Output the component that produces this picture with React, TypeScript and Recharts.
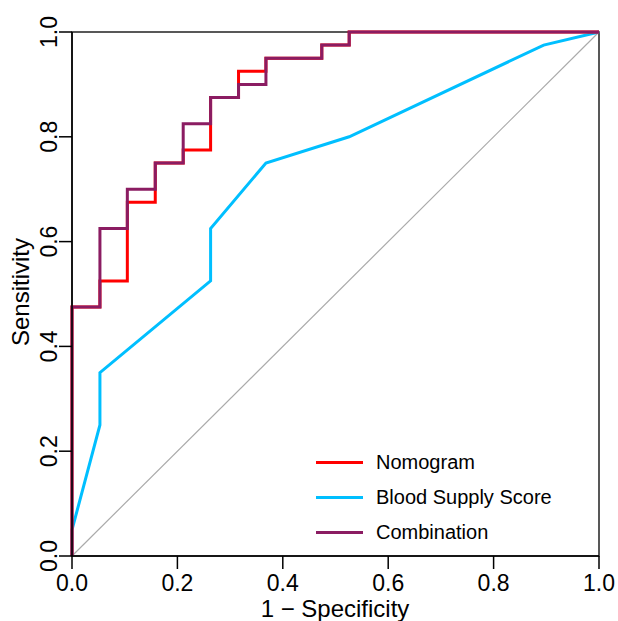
import { LineChart, Line, XAxis, YAxis, ReferenceLine, ReferenceArea } from 'recharts'

// ROC curve points (1 - specificity, sensitivity)
const nomogramFpr = [0, 0, 0.053, 0.053, 0.105, 0.105, 0.158, 0.158, 0.211, 0.211, 0.263, 0.263, 0.316, 0.316, 0.368, 0.368, 0.474, 0.474, 0.526, 0.526, 1]
const nomogramTpr = [0, 0.475, 0.475, 0.525, 0.525, 0.675, 0.675, 0.75, 0.75, 0.775, 0.775, 0.875, 0.875, 0.925, 0.925, 0.95, 0.95, 0.975, 0.975, 1, 1]

const bloodFpr = [0, 0, 0.053, 0.053, 0.263, 0.263, 0.368, 0.526, 0.895, 1]
const bloodTpr = [0, 0.05, 0.25, 0.35, 0.525, 0.625, 0.75, 0.8, 0.975, 1]

const comboFpr = [0, 0, 0.053, 0.053, 0.105, 0.105, 0.158, 0.158, 0.211, 0.211, 0.263, 0.263, 0.316, 0.316, 0.368, 0.368, 0.474, 0.474, 0.526, 0.526, 1]
const comboTpr = [0, 0.475, 0.475, 0.625, 0.625, 0.7, 0.7, 0.75, 0.75, 0.825, 0.825, 0.875, 0.875, 0.9, 0.9, 0.95, 0.95, 0.975, 0.975, 1, 1]

const ticks = [0, 0.2, 0.4, 0.6, 0.8, 1]

const seriesNames = ['Nomogram', 'Blood Supply Score', 'Combination']
const seriesColors = ['#ff0000', '#00bfff', '#8b1c62']

const toPoints = (xs: number[], ys: number[]) => xs.map((x, i) => ({ x, y: ys[i] }))

const FONT = '"Liberation Sans", Arial, sans-serif'

const XTick = ({ x, y, payload }: any) => (
  <text x={x} y={y + 12} textAnchor="middle" dominantBaseline="central" fontSize={23} fontFamily={FONT} fill="#000">
    {payload.value.toFixed(1)}
  </text>
)

const YTick = ({ y, payload }: any) => (
  <text
    x={49}
    y={y}
    textAnchor="middle"
    dominantBaseline="central"
    fontSize={23}
    fontFamily={FONT}
    fill="#000"
    transform={`rotate(-90, 49, ${y})`}
  >
    {payload.value.toFixed(1)}
  </text>
)

export default function App() {
  return (
    <div style={{ position: 'absolute', left: 0, top: 0, width: 618, height: 621, background: '#fff' }}>
      <LineChart width={618} height={621} margin={{ top: 32, right: 19, bottom: 0, left: 0 }}>
        <XAxis
          dataKey="x"
          type="number"
          domain={[0, 1]}
          ticks={ticks}
          tick={<XTick />}
          tickSize={13}
          axisLine={{ stroke: '#000', strokeWidth: 1.5 }}
          tickLine={{ stroke: '#000', strokeWidth: 1.5 }}
          height={65}
        />
        <YAxis
          dataKey="y"
          type="number"
          domain={[0, 1]}
          ticks={ticks}
          tick={<YTick />}
          tickSize={13}
          axisLine={{ stroke: '#000', strokeWidth: 1.5 }}
          tickLine={{ stroke: '#000', strokeWidth: 1.5 }}
          width={72}
        />
        <ReferenceArea x1={0} x2={1} y1={0} y2={1} fill="none" stroke="#222" strokeWidth={1.5} />
        <ReferenceLine segment={[{ x: 0, y: 0 }, { x: 1, y: 1 }]} stroke="#aaaaaa" strokeWidth={1.2} />
        <Line data={toPoints(bloodFpr, bloodTpr)} dataKey="y" type="linear" stroke={seriesColors[1]} strokeWidth={3} dot={false} isAnimationActive={false} />
        <Line data={toPoints(nomogramFpr, nomogramTpr)} dataKey="y" type="linear" stroke={seriesColors[0]} strokeWidth={3} dot={false} isAnimationActive={false} />
        <Line data={toPoints(comboFpr, comboTpr)} dataKey="y" type="linear" stroke={seriesColors[2]} strokeWidth={3} dot={false} isAnimationActive={false} />
        <text x={335} y={617} textAnchor="middle" fontSize={24} fontFamily={FONT} fill="#000">
          1 − Specificity
        </text>
        <text x={29} y={292} textAnchor="middle" fontSize={24} fontFamily={FONT} fill="#000" transform="rotate(-90, 29, 292)">
          Sensitivity
        </text>
      </LineChart>
      <div style={{ position: 'absolute', left: 316, top: 445, fontFamily: FONT, fontSize: 20, color: '#000' }}>
        {seriesNames.map((name, i) => (
          <div key={name} style={{ display: 'flex', alignItems: 'center', height: 35 }}>
            <span style={{ display: 'inline-block', width: 47, height: 3, background: seriesColors[i], marginRight: 13 }} />
            <span>{name}</span>
          </div>
        ))}
      </div>
    </div>
  )
}
